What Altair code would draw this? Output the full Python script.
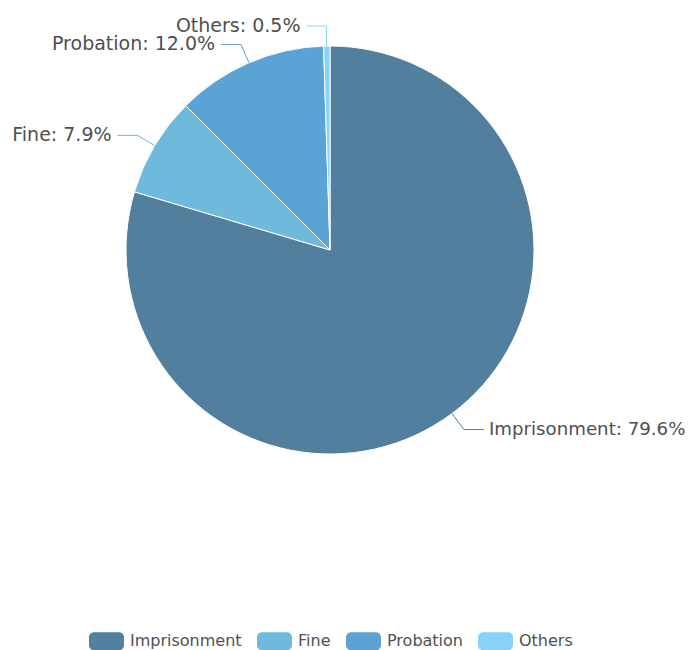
import altair as alt
import pandas as pd

categories = ["Imprisonment", "Fine", "Probation", "Others"]
shares = [79.6, 7.9, 12.0, 0.5]
colors = ["#527f9d", "#6fb9dc", "#5ba3d5", "#86d3f9"]

df = pd.DataFrame({"category": categories, "share": shares, "order": list(range(len(categories)))})

W, H = 680, 642
CX, CY, R, L1, L2 = 322, 242, 204, 20, 20
GAP_RIGHT, GAP_LEFT = 5, 6
FONT = "DejaVu Sans"
TEXT_COLOR = "#505050"

rounded_rect = (
    "M-0.714,-0.514 L0.714,-0.514 A0.286,0.286 0 0 1 1,-0.229 L1,0.229 "
    "A0.286,0.286 0 0 1 0.714,0.514 L-0.714,0.514 A0.286,0.286 0 0 1 -1,0.229 "
    "L-1,-0.229 A0.286,0.286 0 0 1 -0.714,-0.514 Z"
)

color_scale = alt.Scale(domain=categories, range=colors)

legend = alt.Legend(
    orient="none", legendX=81, legendY=615.5, direction="horizontal", title=None,
    symbolType=rounded_rect, symbolSize=1225, symbolStrokeWidth=0, symbolOpacity=1,
    labelFont=FONT, labelFontSize=16, labelColor=TEXT_COLOR, labelOffset=6,
    columnPadding=14, padding=0,
)

base = alt.Chart(df)

pie = base.mark_arc(stroke="white", strokeWidth=1, radius=R).encode(
    theta=alt.Theta("share:Q", stack=True),
    order=alt.Order("order:Q"),
    color=alt.Color("category:N", scale=color_scale, legend=legend),
    x=alt.value(CX),
    y=alt.value(CY),
)

geo = (
    base.transform_joinaggregate(total="sum(share)")
    .transform_window(cum="sum(share)", sort=[alt.SortField("order")], frame=[None, 0])
    .transform_calculate(mid="(datum.cum - datum.share / 2) / datum.total * 2 * PI")
    .transform_calculate(
        sx=f"{CX} + {R} * sin(datum.mid)",
        sy=f"{CY} - {R} * cos(datum.mid)",
        ex=f"{CX} + {R + L1} * sin(datum.mid)",
        ey=f"{CY} - {R + L1} * cos(datum.mid)",
        side="sin(datum.mid) >= 0 ? 1 : -1",
        label="datum.category + ': ' + format(datum.share, '.1f') + '%'",
    )
    .transform_calculate(hx=f"datum.ex + {L2} * datum.side")
    .transform_calculate(
        tx=f"datum.hx + (datum.side > 0 ? {GAP_RIGHT} : -{GAP_LEFT})"
    )
)

line_color = alt.Color("category:N", scale=color_scale, legend=None)

seg1 = geo.mark_rule(strokeWidth=1).encode(
    x=alt.X("sx:Q", scale=None), y=alt.Y("sy:Q", scale=None),
    x2="ex:Q", y2="ey:Q", color=line_color,
)
seg2 = geo.mark_rule(strokeWidth=1).encode(
    x=alt.X("ex:Q", scale=None), y=alt.Y("ey:Q", scale=None),
    x2="hx:Q", y2="ey:Q", color=line_color,
)

text_right = geo.transform_filter("datum.side > 0").mark_text(
    align="left", baseline="middle", font=FONT, fontSize=18.2, color=TEXT_COLOR
).encode(x=alt.X("tx:Q", scale=None), y=alt.Y("ey:Q", scale=None), text="label:N")

text_left = geo.transform_filter("datum.side < 0").mark_text(
    align="right", baseline="middle", font=FONT, fontSize=19, color=TEXT_COLOR
).encode(x=alt.X("tx:Q", scale=None), y=alt.Y("ey:Q", scale=None), text="label:N")

chart = (
    alt.layer(pie, seg1, seg2, text_right, text_left)
    .properties(width=W, height=H, autosize=alt.AutoSizeParams(type="none"), padding=0)
    .configure(font=FONT)
    .configure_view(strokeWidth=0, stroke="transparent")
)

chart.save("out.html", embed_options={"renderer": "svg", "actions": False})
